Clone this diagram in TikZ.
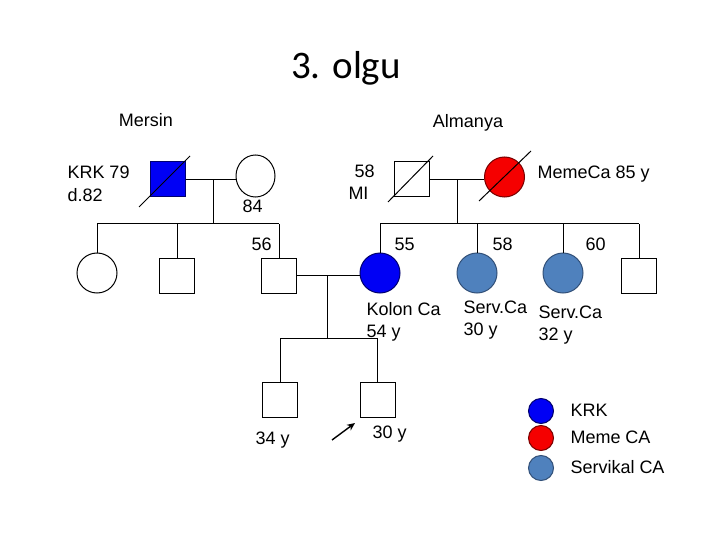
\documentclass[tikz,border=0pt]{standalone}
\usepackage{fontspec}
\setmainfont{Liberation Sans}
\newfontfamily\titlefont{Carlito}
\usetikzlibrary{shapes.geometric,calc,arrows.meta}
\definecolor{krk}{RGB}{0,0,245}
\definecolor{krkb}{RGB}{0,0,110}
\definecolor{meme}{RGB}{245,0,0}
\definecolor{memeb}{RGB}{120,0,0}
\definecolor{serv}{RGB}{79,129,189}
\definecolor{servb}{RGB}{50,80,120}
\begin{document}
\begin{tikzpicture}[x=1pt,y=-1pt,line width=1pt,
  male/.style={draw,rectangle,minimum size=35pt,inner sep=0pt},
  female/.style={draw,circle,minimum size=40pt,inner sep=0pt},
  legdot/.style={draw,circle,minimum size=25pt,inner sep=0pt},
  lbl/.style={anchor=base west,inner sep=0pt,font=\fontsize{18}{21}\selectfont},
  clbl/.style={anchor=base,inner sep=0pt,font=\fontsize{18}{21}\selectfont}]
\fill[white] (0,0) rectangle (720,540);
\useasboundingbox (0,0) rectangle (720,540);

% title and places
\node[anchor=base,inner sep=0pt,font=\titlefont\fontsize{39}{45}\selectfont] (title) at (346,79) {3. olgu};
\node[clbl] (mersin) at (146,127) {Mersin};
\node[clbl] (almanya) at (468,128) {Almanya};

% generation I, left couple
\node[male,fill=krk,draw=krkb] (f1) at (167.5,179.5) {};
\draw ($(f1)+(-28.5,27.5)$) -- ($(f1)+(22.5,-23.5)$);
\node[draw,ellipse,minimum width=39pt,minimum height=42pt,inner sep=0pt] (m1) at (255.5,176) {};
\draw (f1.east) -- (f1.east -| m1.west);
\coordinate (c1) at (213,179.5);
\coordinate (s1) at (213,224);
\draw (c1) -- (s1);

% generation I, right couple
\node[male] (f2) at (411.5,179.5) {};
\draw ($(f2)+(-23.5,22.5)$) -- ($(f2)+(21.5,-23.5)$);
\node[female,fill=meme,draw=memeb] (m2) at (504.5,177) {};
\draw ($(m2)+(-25.5,24)$) -- ($(m2)+(26.5,-26)$);
\draw (f2.east) -- (f2.east -| m2.west);
\coordinate (c2) at (457,179.5);
\coordinate (s2) at (457,224);
\draw (c2) -- (s2);

% generation II
\node[female] (a1) at (97,273) {};
\node[male] (a2) at (177,275.5) {};
\node[male] (a3) at (279,275.5) {};
\node[female,fill=krk,draw=krkb] (a4) at (380,273) {};
\node[female,fill=serv,draw=servb] (a5) at (477,273) {};
\node[female,fill=serv,draw=servb] (a6) at (563,273) {};
\node[male] (a7) at (639,275.5) {};

\draw (a1.north |- s1) -- (a3.north |- s1);
\foreach \n in {a1,a2,a3} \draw (\n.north) -- (\n.north |- s1);
\draw (a4.north |- s2) -- (a7.north |- s2);
\foreach \n in {a4,a5,a6,a7} \draw (\n.north) -- (\n.north |- s2);

% generation II couple
\draw (a3.east) -- (a3.east -| a4.west);
\coordinate (c3) at (327,275.5);
\coordinate (s3) at (327,338);
\draw (c3) -- (s3);

% generation III
\node[male] (b1) at (280,400) {};
\node[male] (b2) at (377.5,400) {};
\draw (b1.north |- s3) -- (b2.north |- s3);
\foreach \n in {b1,b2} \draw (\n.north) -- (\n.north |- s3);

% proband arrow
\coordinate (p0) at (332,440);
\coordinate (p1) at (355,423);
\draw[line width=1.4pt,-{Stealth[length=8pt,width=7pt]}] (p0) -- (p1);

% labels
\node[lbl] (t1) at (67,179) {KRK 79};
\node[lbl] (t2) at (67,202) {d.82};
\node[lbl] (t3) at (242,213) {84};
\node[lbl] (t4) at (354,178) {58};
\node[lbl] (t5) at (348,200) {MI};
\node[lbl] (t6) at (537,179) {MemeCa 85 y};
\node[lbl] (t7) at (251,251) {56};
\node[lbl] (t8) at (394,251) {55};
\node[lbl] (t9) at (492,251) {58};
\node[lbl] (t10) at (585,251) {60};
\node[lbl] (t11) at (366,315) {Kolon Ca};
\node[lbl] (t12) at (366,337) {54 y};
\node[lbl] (t13) at (463,313) {Serv.Ca};
\node[lbl] (t14) at (463,335) {30 y};
\node[lbl] (t15) at (538,318) {Serv.Ca};
\node[lbl] (t16) at (538,340) {32 y};
\node[lbl] (t17) at (255,444) {34 y};
\node[lbl] (t18) at (372,438) {30 y};

% legend
\node[legdot,fill=krk,draw=krkb] (l1) at (541,411) {};
\node[legdot,fill=meme,draw=memeb] (l2) at (541,438) {};
\node[legdot,fill=serv,draw=servb] (l3) at (541,468) {};
\node[lbl] (lt1) at (570,416) {KRK};
\node[lbl] (lt2) at (570,443) {Meme CA};
\node[lbl] (lt3) at (570,473) {Servikal CA};
\end{tikzpicture}
\end{document}
